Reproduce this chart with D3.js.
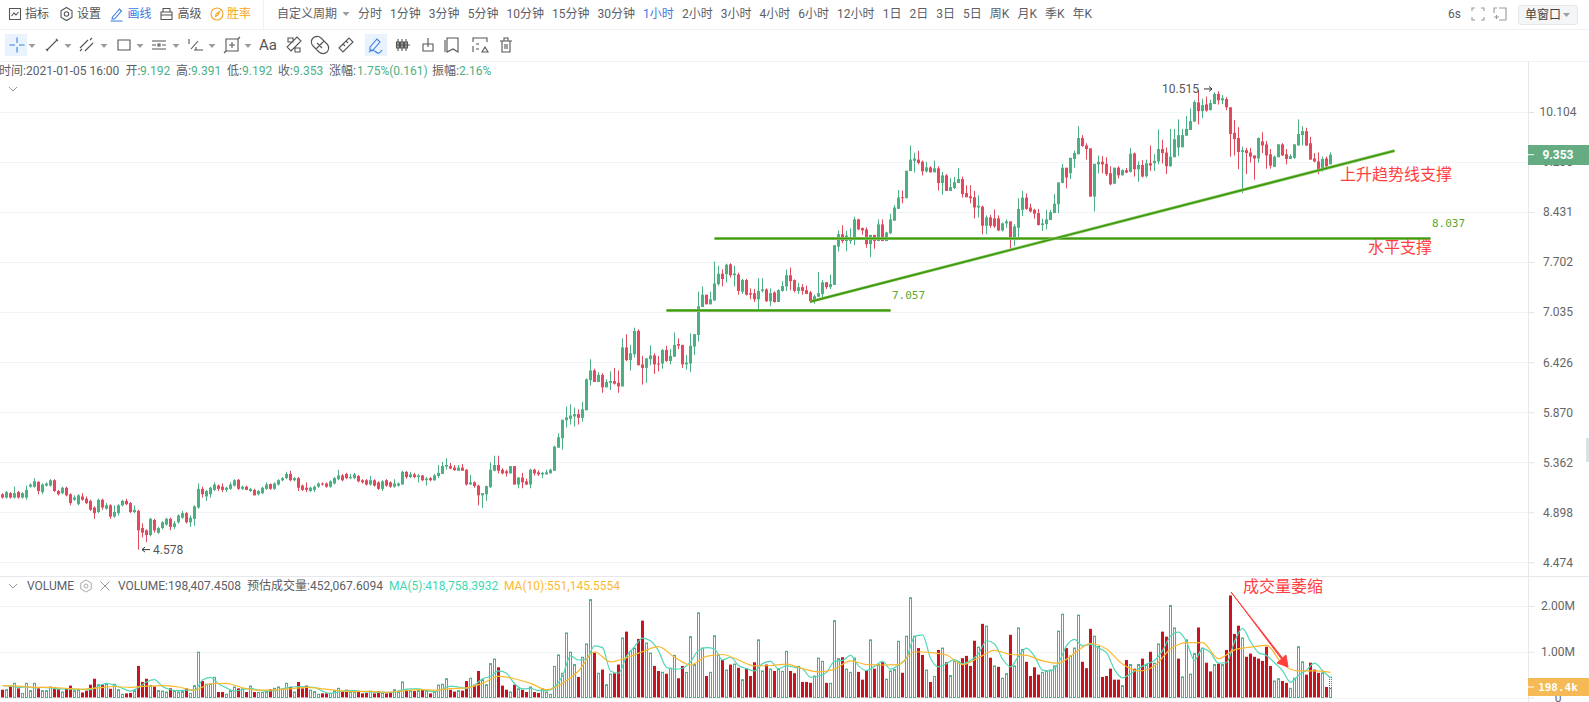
<!DOCTYPE html>
<html>
<head>
<meta charset="utf-8">
<script src="https://cdn.jsdelivr.net/npm/d3@7/dist/d3.min.js"></script>
<style>
  html, body { margin: 0; padding: 0; background: #fff; overflow: hidden; }
  svg { display: block; }
  text { font-family: Roboto, "Noto Sans CJK SC", sans-serif; }
</style>
</head>
<body>
<div id="chart"></div>
<script>
// candles, one hour each, oldest first
const opens = [
5.06,5.03,5.07,5.03,5.08,5.03,5.03,5.13,5.13,5.175,
5.08,5.14,5.14,5.19,5.09,5.07,5.12,5.06,5.01,4.97,
5.04,5.02,5.00,4.94,4.90,5.01,4.93,4.96,4.86,4.89,
4.96,5.00,4.98,4.90,4.91,4.76,4.74,4.70,4.83,4.72,
4.76,4.79,4.84,4.77,4.81,4.85,4.89,4.81,4.84,4.94,
5.11,5.04,5.06,5.10,5.14,5.13,5.10,5.11,5.14,5.195,
5.11,5.13,5.09,5.10,5.06,5.07,5.11,5.155,5.11,5.15,
5.19,5.21,5.25,5.19,5.21,5.14,5.12,5.09,5.10,5.13,
5.16,5.16,5.13,5.16,5.20,5.235,5.25,5.21,5.21,5.23,
5.19,5.19,5.15,5.19,5.17,5.11,5.19,5.17,5.13,5.14,
5.15,5.27,5.22,5.245,5.22,5.235,5.19,5.21,5.19,5.23,
5.25,5.32,5.325,5.31,5.28,5.31,5.29,5.15,5.17,5.14,
5.05,5.06,5.125,5.28,5.335,5.29,5.275,5.255,5.325,5.15,
5.215,5.18,5.15,5.29,5.265,5.245,5.245,5.255,5.28,5.505,
5.60,5.785,5.80,5.825,5.85,5.81,5.89,6.22,6.33,6.20,
6.28,6.14,6.19,6.21,6.19,6.15,6.60,6.45,6.52,6.80,
6.40,6.36,6.46,6.505,6.41,6.41,6.57,6.44,6.49,6.64,
6.63,6.40,6.41,6.61,6.75,7.10,7.26,7.135,7.185,7.40,
7.54,7.535,7.67,7.52,7.53,7.30,7.455,7.28,7.28,7.20,
7.31,7.33,7.175,7.29,7.165,7.31,7.37,7.52,7.455,7.31,
7.36,7.32,7.29,7.175,7.235,7.27,7.425,7.36,7.39,7.92,
8.10,8.00,8.00,8.05,8.32,8.19,8.17,7.955,8.09,8.00,
8.245,8.00,8.115,8.30,8.48,8.66,8.645,9.08,9.25,9.27,
9.235,9.075,9.14,9.06,9.125,8.885,9.01,8.76,8.805,8.885,
8.95,8.725,8.675,8.66,8.50,8.515,8.225,8.35,8.335,8.335,
8.155,8.26,8.29,8.03,8.195,8.465,8.655,8.50,8.465,8.415,
8.235,8.25,8.31,8.415,8.55,8.885,9.135,9.045,9.28,9.36,
9.64,9.51,9.46,8.67,9.19,9.235,9.20,9.045,8.875,9.135,
9.01,9.095,9.065,9.375,9.11,9.18,8.995,9.21,9.21,9.24,
9.45,9.39,9.16,9.31,9.475,9.48,9.68,9.78,9.93,10.28,
10.12,10.245,10.14,10.25,10.44,10.32,10.345,10.19,9.73,9.64,
9.40,9.43,9.39,9.34,9.29,9.58,9.53,9.36,9.15,9.31,
9.53,9.36,9.28,9.30,9.51,9.69,9.76,9.55,9.29,9.24,9.11,9.29,9.192];
const closes = [
5.03,5.08,5.03,5.07,5.03,5.07,5.10,5.15,5.18,5.09,
5.15,5.16,5.19,5.09,5.06,5.12,5.05,4.98,5.03,5.05,
5.01,4.98,4.92,4.89,5.01,4.94,4.96,4.86,4.90,4.96,
5.00,4.97,4.90,4.92,4.74,4.72,4.70,4.84,4.74,4.76,
4.81,4.84,4.77,4.80,4.87,4.89,4.81,4.85,4.95,5.11,
5.06,5.09,5.12,5.15,5.11,5.10,5.12,5.15,5.19,5.11,
5.13,5.10,5.11,5.05,5.09,5.12,5.15,5.11,5.16,5.19,
5.21,5.25,5.19,5.21,5.12,5.10,5.10,5.12,5.13,5.16,
5.15,5.13,5.18,5.21,5.235,5.19,5.21,5.22,5.245,5.18,
5.17,5.15,5.19,5.14,5.11,5.18,5.14,5.13,5.16,5.16,
5.27,5.22,5.245,5.22,5.235,5.19,5.205,5.19,5.235,5.26,
5.325,5.335,5.30,5.285,5.31,5.28,5.15,5.17,5.135,5.05,
5.07,5.135,5.29,5.335,5.28,5.255,5.255,5.325,5.15,5.215,
5.17,5.15,5.29,5.255,5.245,5.26,5.265,5.29,5.515,5.61,
5.79,5.815,5.835,5.85,5.81,5.90,6.23,6.33,6.20,6.28,
6.14,6.20,6.21,6.18,6.15,6.60,6.45,6.53,6.80,6.39,
6.36,6.47,6.505,6.40,6.40,6.57,6.44,6.50,6.63,6.62,
6.40,6.42,6.62,6.76,7.11,7.26,7.135,7.20,7.41,7.54,
7.47,7.665,7.52,7.545,7.31,7.455,7.26,7.26,7.20,7.31,
7.33,7.175,7.28,7.165,7.32,7.375,7.52,7.44,7.31,7.36,
7.31,7.27,7.175,7.24,7.28,7.425,7.36,7.40,7.94,8.10,
8.00,8.08,8.05,8.32,8.17,8.155,7.955,8.09,8.00,8.245,
8.00,8.125,8.32,8.50,8.655,8.645,9.085,9.27,9.29,9.215,
9.075,9.14,9.06,9.125,8.885,9.01,8.76,8.82,8.90,8.95,
8.71,8.66,8.645,8.50,8.53,8.225,8.35,8.225,8.215,8.155,
8.26,8.29,8.03,8.215,8.48,8.655,8.48,8.44,8.405,8.235,
8.26,8.32,8.43,8.56,8.895,9.135,8.975,9.30,9.38,9.64,
9.50,9.45,8.67,9.20,9.235,9.19,9.03,8.865,9.135,9.01,
9.095,9.055,9.37,9.11,9.18,8.99,9.21,9.17,9.25,9.45,
9.38,9.16,9.32,9.62,9.69,9.69,9.80,9.94,10.29,10.12,
10.23,10.13,10.27,10.44,10.32,10.36,10.19,9.71,9.62,9.40,
9.43,9.38,9.32,9.29,9.64,9.51,9.34,9.17,9.32,9.53,
9.34,9.28,9.33,9.53,9.71,9.76,9.51,9.27,9.24,9.11,9.28,9.16,9.353];
const highs = [
5.07,5.09,5.08,5.13,5.09,5.08,5.14,5.16,5.21,5.18,
5.16,5.17,5.20,5.20,5.10,5.13,5.13,5.07,5.05,5.06,
5.07,5.04,5.01,4.95,5.02,5.02,4.98,4.97,4.96,4.97,
5.01,5.02,4.99,4.96,4.92,4.80,4.75,4.85,4.84,4.77,
4.82,4.85,4.85,4.82,4.88,4.91,4.90,4.87,4.96,5.16,
5.13,5.10,5.13,5.17,5.15,5.16,5.13,5.17,5.20,5.20,
5.14,5.14,5.12,5.11,5.10,5.13,5.17,5.16,5.17,5.20,
5.22,5.27,5.28,5.22,5.22,5.15,5.17,5.13,5.14,5.17,
5.17,5.17,5.19,5.22,5.29,5.25,5.26,5.25,5.26,5.24,
5.20,5.20,5.23,5.20,5.18,5.19,5.20,5.18,5.20,5.17,
5.28,5.275,5.27,5.26,5.25,5.24,5.22,5.22,5.25,5.335,
5.365,5.40,5.355,5.335,5.335,5.345,5.295,5.24,5.18,5.15,
5.07,5.14,5.36,5.425,5.425,5.305,5.29,5.325,5.325,5.22,
5.26,5.205,5.30,5.30,5.285,5.27,5.29,5.30,5.525,5.65,
5.79,5.93,5.955,5.92,5.90,5.98,6.24,6.46,6.35,6.31,
6.30,6.23,6.32,6.36,6.33,6.71,6.76,6.63,6.84,6.82,
6.50,6.47,6.625,6.53,6.50,6.58,6.62,6.58,6.78,6.71,
6.63,6.51,6.77,6.76,7.30,7.37,7.26,7.30,7.71,7.65,
7.60,7.68,7.685,7.65,7.555,7.47,7.47,7.345,7.335,7.48,
7.48,7.345,7.345,7.305,7.33,7.44,7.60,7.625,7.465,7.42,
7.40,7.38,7.31,7.26,7.565,7.455,7.43,7.53,7.94,8.155,
8.23,8.15,8.185,8.36,8.33,8.20,8.20,8.09,8.09,8.32,
8.32,8.135,8.405,8.54,8.775,8.765,9.085,9.51,9.385,9.42,
9.255,9.235,9.16,9.255,9.16,9.065,9.03,8.965,8.985,9.13,
8.99,8.85,8.85,8.76,8.69,8.53,8.38,8.39,8.47,8.38,
8.275,8.32,8.29,8.245,8.645,8.76,8.72,8.56,8.48,8.48,
8.33,8.465,8.465,8.71,8.895,9.20,9.135,9.30,9.42,9.85,
9.69,9.55,9.46,9.20,9.34,9.33,9.31,9.16,9.135,9.16,
9.11,9.13,9.47,9.39,9.24,9.26,9.27,9.51,9.36,9.79,
9.61,9.475,9.80,9.80,9.97,9.80,10.03,10.17,10.32,10.515,
10.35,10.39,10.33,10.47,10.49,10.42,10.38,10.19,9.96,9.83,
9.49,9.47,9.47,9.34,9.65,9.74,9.59,9.45,9.34,9.53,
9.55,9.45,9.36,9.53,9.97,9.85,9.82,9.66,9.38,9.39,9.32,9.32,9.391];
const lows = [
5.02,5.02,5.02,5.02,5.02,5.02,5.01,5.12,5.12,5.06,
5.06,5.13,5.13,5.08,5.05,5.06,5.04,4.96,5.00,4.96,
5.00,4.97,4.91,4.84,4.89,4.92,4.92,4.84,4.85,4.87,
4.95,4.96,4.89,4.89,4.578,4.68,4.64,4.69,4.72,4.71,
4.75,4.78,4.74,4.75,4.80,4.84,4.80,4.77,4.78,4.93,
5.03,5.00,5.03,5.09,5.09,5.08,5.08,5.10,5.13,5.10,
5.10,5.10,5.08,5.05,5.05,5.06,5.10,5.10,5.10,5.14,
5.18,5.20,5.18,5.18,5.09,5.09,5.08,5.08,5.08,5.12,
5.14,5.12,5.12,5.15,5.19,5.18,5.20,5.20,5.20,5.17,
5.16,5.14,5.14,5.13,5.10,5.09,5.13,5.12,5.12,5.13,
5.15,5.205,5.21,5.21,5.17,5.18,5.14,5.18,5.185,5.21,
5.25,5.29,5.295,5.28,5.28,5.28,5.14,5.15,5.12,4.96,
4.935,5.00,5.12,5.275,5.255,5.245,5.225,5.255,5.15,5.115,
5.115,5.145,5.115,5.235,5.23,5.21,5.245,5.255,5.28,5.505,
5.485,5.71,5.74,5.72,5.74,5.77,5.89,6.16,6.20,6.20,
6.08,6.14,6.11,6.17,6.08,6.15,6.44,6.33,6.48,6.39,
6.17,6.19,6.39,6.29,6.32,6.35,6.43,6.40,6.49,6.58,
6.36,6.34,6.31,6.51,6.67,7.10,7.135,7.135,7.18,7.38,
7.37,7.42,7.49,7.37,7.26,7.27,7.25,7.20,7.165,7.065,
7.29,7.165,7.11,7.155,7.165,7.30,7.31,7.32,7.29,7.27,
7.26,7.27,7.155,7.14,7.23,7.215,7.335,7.335,7.39,7.85,
7.97,7.855,7.96,7.94,8.16,8.09,7.905,7.77,7.89,8.00,
8.00,8.00,8.10,8.30,8.48,8.565,8.645,9.08,9.055,9.19,
9.01,9.055,9.055,9.06,8.765,8.70,8.76,8.76,8.79,8.885,
8.655,8.66,8.565,8.335,8.35,8.10,8.10,8.195,8.195,8.145,
8.14,8.195,7.89,7.93,8.03,8.37,8.465,8.425,8.33,8.23,
8.15,8.17,8.31,8.415,8.415,8.885,8.80,8.95,9.135,9.36,
9.49,9.27,8.67,8.44,9.04,9.045,9.00,8.85,8.875,8.96,
9.01,9.045,9.055,8.99,8.905,8.975,8.975,9.08,9.08,9.19,
9.205,9.03,9.15,9.31,9.33,9.48,9.68,9.78,9.93,9.88,
9.99,10.11,10.13,10.25,10.24,10.25,10.14,9.32,9.34,9.11,
8.725,9.03,9.22,8.94,9.22,9.38,9.12,9.12,9.15,9.31,
9.33,9.19,9.28,9.28,9.51,9.51,9.50,9.27,9.225,9.03,9.07,9.13,9.192];
// volume in millions
const volumes = [
.17,.17,.24,.31,.20,.09,.31,.15,.31,.20,
.15,.15,.23,.23,.18,.12,.19,.26,.15,.17,
.11,.15,.28,.41,.28,.28,.29,.19,.29,.17,
.07,.09,.10,.15,.69,.34,.41,.26,.24,.15,
.14,.12,.20,.15,.12,.13,.20,.09,.26,.99,
.36,.29,.29,.44,.12,.12,.07,.15,.23,.20,
.19,.12,.25,.12,.11,.11,.13,.18,.20,.23,
.19,.31,.23,.12,.34,.20,.26,.16,.13,.07,
.09,.09,.09,.15,.20,.14,.17,.13,.13,.12,
.09,.10,.14,.09,.14,.09,.09,.11,.17,.11,
.34,.17,.15,.14,.15,.17,.15,.09,.11,.27,
.29,.41,.17,.13,.15,.15,.36,.42,.28,.58,
.39,.28,.74,.84,.66,.26,.17,.12,.28,.19,
.17,.12,.23,.12,.10,.19,.12,.07,.68,.93,
.53,1.41,.99,.72,.45,.88,1.17,2.14,.98,.53,
.61,.28,.51,.53,.72,1.30,1.44,1.01,1.08,1.28,
1.68,1.19,.97,.69,.58,.55,.52,.64,.92,.42,
.69,.55,1.33,.72,1.85,1.08,.47,.55,1.35,.93,
.82,.60,.72,.73,.65,.39,.64,.47,.77,1.26,
.58,.72,.62,.58,.63,.57,1.01,.58,.53,.68,
.34,.34,.32,.47,.86,.79,.32,.31,1.68,.85,
.88,.62,.55,.86,.56,.39,.58,1.26,.63,.72,
.77,.40,.58,.61,1.23,.54,1.34,2.18,1.34,1.08,
.93,.60,.34,.46,1.04,1.08,.77,.48,.79,.78,
.86,.91,.69,1.24,1.10,1.61,1.56,.87,.69,.67,
.42,.52,1.37,.69,1.52,1.05,.78,.47,.66,.50,
.55,.58,.60,.69,1.45,1.82,1.08,.91,1.08,1.80,
.78,.64,1.50,1.34,1.12,.45,.47,.63,.39,.39,
.26,.82,.72,.63,.72,.85,.72,1.00,.75,1.17,
1.44,1.33,2.01,1.52,.85,.45,1.26,.51,.96,1.53,
1.08,.76,.57,.72,.74,.72,1.04,2.23,1.39,1.57,
1.30,.89,.96,.89,.85,.80,1.11,.69,.36,.41,
.36,.32,.20,.42,1.11,.78,.50,.76,.61,.54,.54,.23,.198];
// bars whose colour differs from the candle above them
const flippedVolumeBars = [248, 278, 294, 302, 314];

// MA(5) read every 2nd candle, MA(10) every 4th candle, in millions
const ma5Step = 2;
const ma5 = [
.26,.25,.22,.23,.21,.22,.21,.19,.19,.18,.18,.17,.25,.31,.27,.20,.14,.22,.34,.39,
.24,.17,.15,.16,.16,.38,.44,.30,.21,.14,.17,.20,.16,.14,.15,.19,.23,.24,.23,.22,
.14,.09,.12,.15,.15,.13,.12,.11,.11,.12,.17,.19,.19,.15,.13,.18,.25,.23,.20,.27,
.41,.46,.58,.53,.30,.19,.20,.15,.15,.23,.47,.91,.82,.84,1.13,1.09,.58,.53,.90,1.11,
1.30,1.24,1.02,.66,.62,.64,.78,1.03,1.09,1.06,.82,.88,.70,.63,.58,.74,.79,.63,.69,.66,
.63,.44,.47,.55,.79,.81,.92,.69,.59,.68,.79,.62,.71,.86,1.33,1.37,.86,.67,.74,.83,
.74,.81,.96,1.24,1.17,.84,.67,.90,1.08,.90,.60,.58,.75,1.13,1.27,1.13,1.16,1.08,.98,.61,
.43,.52,.63,.73,.81,1.02,1.34,1.43,1.22,.81,1.07,.98,.75,.76,1.22,1.51,1.22,.98,.92,.76,
.59,.33,.48,.60,.75,.59,.42];
const ma10Step = 4;
const ma10 = [
.26,.25,.22,.22,.20,.18,.21,.24,.22,.25,.26,.23,.16,.30,.31,.21,.16,.165,.19,.22,
.19,.15,.13,.135,.115,.14,.17,.16,.195,.21,.31,.46,.41,.31,.17,.31,.58,1.00,.78,.87,
1.00,1.11,.88,.71,.90,.94,.82,.69,.70,.73,.63,.56,.62,.80,.72,.71,.72,1.00,.98,.93,
.72,.87,1.03,.94,.92,.80,.75,.97,1.18,1.06,.73,.58,.69,1.06,1.20,1.20,.85,1.04,1.10,1.14,
.73,.58,.58,.551];

const priceTicks = [10.104, 9.230, 8.431, 7.702, 7.035, 6.426, 5.870, 5.362, 4.898, 4.474];
const volumeTicks = [0, 1, 2];
const lastPrice = 9.353, lastVolume = 0.1984, estimatedVolume = 0.452;
const priceHigh = 10.515, priceLow = 4.578;
const supportLow = 7.057, supportHigh = 8.037;
const trendFrom = [202, 7.17], trendTo = [348, 9.42];

const menuLabels = ["指标", "设置", "画线", "高级", "胜率"];
const periodLabels = ["分时","1分钟","3分钟","5分钟","10分钟","15分钟","30分钟","1小时","2小时","3小时","4小时","6小时","12小时","1日","2日","3日","5日","周K","月K","季K","年K"];

const W = 1589, H = 702, axisX = 1528;
const textGray = "#5b5e66", up = "#4cb084", down = "#e04a5c", volDown = "#c9141f", green = "#3c9a0c";

let svg = d3.select("#chart").append("svg").attr("width", W).attr("height", H);

let x = d3.scaleLinear().domain([0, opens.length - 1]).range([2.5, 1330.5]);
let yPrice = d3.scaleLog().domain([4.474, 10.104]).range([562.3, 112]);
let yVol = d3.scaleLinear().domain([0, 2]).range([697.5, 606]);

function label(parent, tx, ty, str, color, size, anchor) {
  return parent.append("text").attr("x", tx).attr("y", ty).attr("dy", "0.35em")
    .attr("fill", color).attr("font-size", size || 12)
    .attr("text-anchor", anchor || "start").text(str);
}

// toolbars
let bar = svg.append("g");
bar.append("line").attr("x1", 0).attr("x2", W).attr("y1", 29.5).attr("y2", 29.5).attr("stroke", "#f0f1f4");
bar.append("line").attr("x1", 0).attr("x2", W).attr("y1", 61.5).attr("y2", 61.5).attr("stroke", "#f0f1f4");
bar.append("line").attr("x1", 263.5).attr("x2", 263.5).attr("y1", 0).attr("y2", 29).attr("stroke", "#f0f1f4");

function icon(cx, cy, d, color) {
  bar.append("path").attr("transform", `translate(${cx},${cy})`).attr("d", d)
    .attr("fill", "none").attr("stroke", color || "#555").attr("stroke-width", 1.1);
}
function caret(cx, cy, color) {
  bar.append("path").attr("transform", `translate(${cx},${cy})`).attr("d", "M-3.5,-2 L3.5,-2 L0,2 Z").attr("fill", color || "#9a9da3");
}

const menuX = [25, 77, 127.5, 177.5, 227];
const menuColor = ["#555", "#555", "#3c7be0", "#555", "#f5a623"];
menuLabels.forEach((m, i) => label(bar, menuX[i], 14, m, menuColor[i]));
icon(15, 14, "M-5.5,-5.5 H5.5 V5.5 H-5.5 Z M-3.5,2 L-1,-1 L1,1 L3.5,-2");
icon(66.5, 14, "M0,-6.5 L5.5,-3.2 V3.2 L0,6.5 L-5.5,3.2 V-3.2 Z M2.2,0 A2.2,2.2 0 1 1 -2.2,0 A2.2,2.2 0 1 1 2.2,0");
icon(116.5, 14, "M-4,3 L3,-5 L5,-3 L-2,5 L-4.5,5 Z M-6,7 H6", "#3c7be0");
icon(166.5, 14, "M-5.5,-2 H5.5 V5.5 H-5.5 Z M-3.5,-2 V-5.5 H3.5 V-2 M-5.5,1 H5.5");
icon(217, 14, "M6,0 A6,6 0 1 1 -6,0 A6,6 0 1 1 6,0 M2.5,-2.5 L-1,0 L-1.5,2.5 L1,1 Z", "#f5a623");

label(bar, 277, 14, "自定义周期", textGray);
caret(346, 14);
let px = 358;
periodLabels.forEach(p => {
  let t = label(bar, px, 14, p, p == "1小时" ? "#3c7be0" : textGray);
  px += t.node().getComputedTextLength() + 8.05;
});
label(bar, 1448, 14, "6s", textGray);
icon(1478, 14, "M-6,-3 V-6 H-3 M3,-6 H6 V-3 M6,3 V6 H3 M-3,6 H-6 V3", "#999");
icon(1500, 14, "M-1,-6 H6 V6 H-1 M-6,-1 V-6 H-3 M-6,3 H-1 M-3.5,1 V5", "#999");
bar.append("rect").attr("x", 1518.5).attr("y", 5.5).attr("width", 59).attr("height", 19).attr("rx", 2)
  .attr("fill", "#f4f5f7").attr("stroke", "#e6e8eb");
label(bar, 1525, 15, "单窗口", "#444");
caret(1566.5, 15);

// drawing tools row
bar.append("rect").attr("x", 5).attr("y", 34).attr("width", 22).attr("height", 22).attr("fill", "#e8f3fd");
bar.append("rect").attr("x", 365).attr("y", 34).attr("width", 22).attr("height", 22).attr("fill", "#e8f3fd");
[32, 68, 104, 140, 176, 212, 248].forEach(cx => caret(cx, 46));
icon(17, 45, "M-7.5,0 H-2 M2,0 H7.5 M0,-7.5 V-2 M0,2 V7.5", "#3c7be0");
icon(52, 45, "M-5,5 L5,-5 M-6,4 L-4,6 M4,-6 L6,-4");
icon(87, 45, "M-7,3 L1,-5 M-2,6 L6,-2 M-7,6 L-5,4 M3,-5 L5,-7");
icon(124, 45, "M-6,-5 H6 V5 H-6 Z");
icon(159, 45, "M-7,-4 H7 M-7,0 H-3 M3,0 H7 M-7,4 H7 M-1,-1 H1 V1 H-1 Z");
icon(196, 45, "M-7,-6 V-1 M-5,4 L2,-4 M-2,5 H7 M0,2 V5", "#555");
icon(232, 45, "M-6,-6 H6 V6 H-6 Z M-3,0 H3 M0,-3 V3 M-8,8 L-6,6 M6,-6 L8,-8");
label(bar, 268, 45, "Aa", "#555", 15, "middle");
icon(294, 45, "M-6,-7 H-1 V-3 H-6 Z M1,7 H6 V3 H1 Z M-3,6 L7,-4 L3,-8 L-7,2 Z");
icon(320, 45, "M-7,1 A4,4 0 0 1 1,-7 L7,-1 A4,4 0 0 1 -1,7 Z M-4,4 L4,-4 M-3,-2 L2,3");
icon(346, 45, "M-7,3 L3,-7 L7,-3 L-3,7 Z M-3,-1 L-1,1 M0,-4 L2,-2");
icon(375, 45, "M-5,2 L2,-6 L5,-3 L-2,5 H-5 Z M-6,7 Q-2,4 1,7 T7,5", "#3c7be0");
icon(403, 45, "M-7,0 H7 M-5,-6 V6 M-1,-6 V6 M3,-6 V6 M-6.5,-3 H-3.5 V3 H-6.5 Z M-2.5,-3 H.5 V3 H-2.5 Z M1.5,-3 H4.5 V3 H1.5 Z");
icon(428, 45, "M-5,-1 H5 V6 H-5 Z M0,-7 V2");
icon(453, 45, "M-6,-7 H5 V7 L0,4 L-6,7 Z M-8,-5 V7");
icon(480, 45, "M-7,-3 V-7 H7 V-3 M-7,7 V1 M-4,-1 H-1 M-4,4 H-1 M2,7 L5,2 L8,7 Z");
icon(506, 45, "M-6,-4 H6 M-4,-4 V7 H4 V-4 M-2,-4 V-7 H2 V-4 M-1,-1 V4 M1,-1 V4");

// ohlc readout
label(svg, -1, 71, "时间:2021-01-05 16:00", textGray);
[[125.5, "开:", "9.192", 140], [176, "高:", "9.391", 191], [227, "低:", "9.192", 242], [278, "收:", "9.353", 293]]
  .forEach(r => { label(svg, r[0], 71, r[1], textGray); label(svg, r[3], 71, r[2], up); });
label(svg, 329, 71, "涨幅:", textGray);
label(svg, 357, 71, "1.75%(0.161)", up);
label(svg, 432, 71, "振幅:", textGray);
label(svg, 459, 71, "2.16%", up);
svg.append("path").attr("d", "M9,87 L13,91 L17,87").attr("fill", "none").attr("stroke", "#999");

// price grid and axis
let priceAxis = svg.append("g").attr("transform", `translate(${axisX},0)`)
  .call(d3.axisRight(yPrice).tickValues(priceTicks).tickFormat(d3.format(".3f")).tickSize(6));
priceAxis.select(".domain").remove();
priceAxis.selectAll(".tick line").attr("stroke", "#dfe3e7");
priceAxis.selectAll(".tick text").attr("x", 30).attr("text-anchor", "middle").attr("fill", "#666").attr("font-size", 12);
svg.append("g").selectAll("line").data(priceTicks).join("line")
  .attr("x1", 0).attr("x2", axisX).attr("y1", d => Math.round(yPrice(d)) + 0.5).attr("y2", d => Math.round(yPrice(d)) + 0.5)
  .attr("stroke", "#eff4f6");

svg.append("line").attr("x1", axisX + 0.5).attr("x2", axisX + 0.5).attr("y1", 61).attr("y2", H).attr("stroke", "#e6e8eb");
svg.append("line").attr("x1", 0).attr("x2", W).attr("y1", 576.5).attr("y2", 576.5).attr("stroke", "#e6e8eb");

// volume grid and axis
let volAxis = svg.append("g").attr("transform", `translate(${axisX},0)`)
  .call(d3.axisRight(yVol).tickValues(volumeTicks).tickFormat(d => d == 0 ? "0" : d3.format(".2f")(d) + "M").tickSize(6));
volAxis.select(".domain").remove();
volAxis.selectAll(".tick line").attr("stroke", "#dfe3e7");
volAxis.selectAll(".tick text").attr("x", 30).attr("text-anchor", "middle").attr("fill", "#666").attr("font-size", 12);
svg.append("g").selectAll("line").data(volumeTicks).join("line")
  .attr("x1", 0).attr("x2", axisX).attr("y1", d => Math.round(yVol(d)) + 0.5).attr("y2", d => Math.round(yVol(d)) + 0.5)
  .attr("stroke", "#eff4f6");

// candles
let idx = d3.range(opens.length);
let candles = svg.append("g");
candles.selectAll("rect.wick").data(idx).join("rect").attr("class", "wick")
  .attr("x", i => x(i) - 0.5).attr("width", 1)
  .attr("y", i => yPrice(highs[i])).attr("height", i => Math.max(1, yPrice(lows[i]) - yPrice(highs[i])))
  .attr("fill", i => closes[i] >= opens[i] ? up : down);
candles.selectAll("rect.body").data(idx).join("rect").attr("class", "body")
  .attr("x", i => x(i) - 1.5).attr("width", 3)
  .attr("y", i => yPrice(Math.max(opens[i], closes[i])))
  .attr("height", i => Math.max(1, Math.abs(yPrice(opens[i]) - yPrice(closes[i]))))
  .attr("fill", i => closes[i] >= opens[i] ? up : down);

// volume bars
function isDownBar(i) {
  let down_ = closes[i] < opens[i];
  return flippedVolumeBars.includes(i) ? !down_ : down_;
}
let bars = svg.append("g");
bars.selectAll("rect").data(idx).join("rect")
  .attr("x", i => isDownBar(i) ? x(i) - 1.5 : x(i) - 1)
  .attr("width", i => isDownBar(i) ? 3 : 2)
  .attr("y", i => yVol(volumes[i]))
  .attr("height", i => yVol(0) - yVol(volumes[i]))
  .attr("fill", i => isDownBar(i) ? volDown : "#fff")
  .attr("stroke", i => isDownBar(i) ? "none" : up)
  .attr("stroke-width", 1);
let lastI = opens.length - 1;
svg.append("rect").attr("x", x(lastI) - 1).attr("width", 2)
  .attr("y", yVol(estimatedVolume)).attr("height", yVol(lastVolume) - yVol(estimatedVolume))
  .attr("fill", "none").attr("stroke", "#666").attr("stroke-dasharray", "1,1");

// moving averages
function maLine(values, step, color) {
  let line = d3.line().x((d, k) => x(k * step)).y(d => yVol(d)).curve(d3.curveMonotoneX);
  svg.append("path").attr("d", line(values)).attr("fill", "none").attr("stroke", color).attr("stroke-width", 1.2);
}
maLine(ma5, ma5Step, "#4fd8b8");
maLine(ma10, ma10Step, "#fdb92c");

// hand drawn support lines
function supportLine(a, b) {
  let x1 = x(a[0]), y1 = yPrice(a[1]), x2 = x(b[0]), y2 = yPrice(b[1]);
  svg.append("line").attr("x1", x1).attr("y1", y1).attr("x2", x2).attr("y2", y2)
    .attr("stroke", "#8fc56a").attr("stroke-width", 3);
  svg.append("line").attr("x1", x1).attr("y1", y1).attr("x2", x2).attr("y2", y2)
    .attr("stroke", green).attr("stroke-width", 1.6);
}
supportLine([166, supportLow], [222, supportLow]);
supportLine([178, supportHigh], [357, supportHigh]);
supportLine(trendFrom, trendTo);

function monoLabel(tx, ty, str) {
  label(svg, tx, ty, str, "#5aa82e", 11).style("font-family", "'DejaVu Sans Mono'");
}
monoLabel(892, 295, d3.format(".3f")(supportLow));
monoLabel(1432, 223, d3.format(".3f")(supportHigh));

// high and low markers
label(svg, 1199, yPrice(priceHigh) - 1, d3.format(".3f")(priceHigh), "#555", 12, "end");
svg.append("path").attr("d", `M1204,${yPrice(priceHigh) - 1} H1212 M1209,${yPrice(priceHigh) - 3.5} L1212,${yPrice(priceHigh) - 1} L1209,${yPrice(priceHigh) + 1.5}`)
  .attr("fill", "none").attr("stroke", "#333");
label(svg, 153, yPrice(priceLow), d3.format(".3f")(priceLow), "#555", 12);
svg.append("path").attr("d", `M142,${yPrice(priceLow)} H150 M145,${yPrice(priceLow) - 2.5} L142,${yPrice(priceLow)} L145,${yPrice(priceLow) + 2.5}`)
  .attr("fill", "none").attr("stroke", "#333");

// red notes
const noteRed = "#ff3f3f";
label(svg, 1340, 174, "上升趋势线支撑", noteRed, 16);
label(svg, 1368, 247, "水平支撑", noteRed, 16);
label(svg, 1243, 586, "成交量萎缩", noteRed, 16);
svg.append("path").attr("d", "M1231,592 L1281.5,659 L1277,663 L1288,667 L1286,655 L1282.5,658 Z")
  .attr("fill", noteRed).attr("stroke", noteRed).attr("stroke-linejoin", "round");

// volume header
svg.append("path").attr("d", "M9,584 L13,588 L17,584").attr("fill", "none").attr("stroke", "#999");
label(svg, 27, 586, "VOLUME", textGray);
svg.append("path").attr("transform", "translate(86,586)")
  .attr("d", "M0,-6 L5.2,-3 V3 L0,6 L-5.2,3 V-3 Z M2,0 A2,2 0 1 1 -2,0 A2,2 0 1 1 2,0")
  .attr("fill", "none").attr("stroke", "#aaa");
svg.append("path").attr("transform", "translate(105,586)").attr("d", "M-4.5,-4.5 L4.5,4.5 M4.5,-4.5 L-4.5,4.5")
  .attr("fill", "none").attr("stroke", "#999");
label(svg, 118, 586, "VOLUME:198,407.4508", textGray);
label(svg, 247, 586, "预估成交量:452,067.6094", textGray);
label(svg, 389, 586, "MA(5):418,758.3932", "#3fd8b0");
label(svg, 504, 586, "MA(10):551,145.5554", "#fdb92c");

// last value tags
svg.append("rect").attr("x", axisX).attr("y", yPrice(lastPrice) - 9.7).attr("width", W - axisX).attr("height", 20)
  .attr("fill", "#5fa97d").attr("fill-opacity", 0.96);
svg.append("line").attr("x1", axisX).attr("x2", axisX + 6).attr("y1", yPrice(lastPrice)).attr("y2", yPrice(lastPrice)).attr("stroke", "#fff");
label(svg, 1558, yPrice(lastPrice), d3.format(".3f")(lastPrice), "#fff", 12, "middle").attr("font-weight", 700);
svg.append("rect").attr("x", axisX).attr("y", 678).attr("width", W - axisX).attr("height", 18).attr("fill", "#f5b955");
svg.append("line").attr("x1", axisX).attr("x2", axisX + 6).attr("y1", 687).attr("y2", 687).attr("stroke", "#fff");
label(svg, 1558, 687, "198.4k", "#fff", 11, "middle").attr("font-weight", 700).style("font-family", "'DejaVu Sans Mono'");

// side handle
svg.append("rect").attr("x", 1586).attr("y", 438).attr("width", 3).attr("height", 24).attr("fill", "#dcdfe3");
</script>
</body>
</html>
